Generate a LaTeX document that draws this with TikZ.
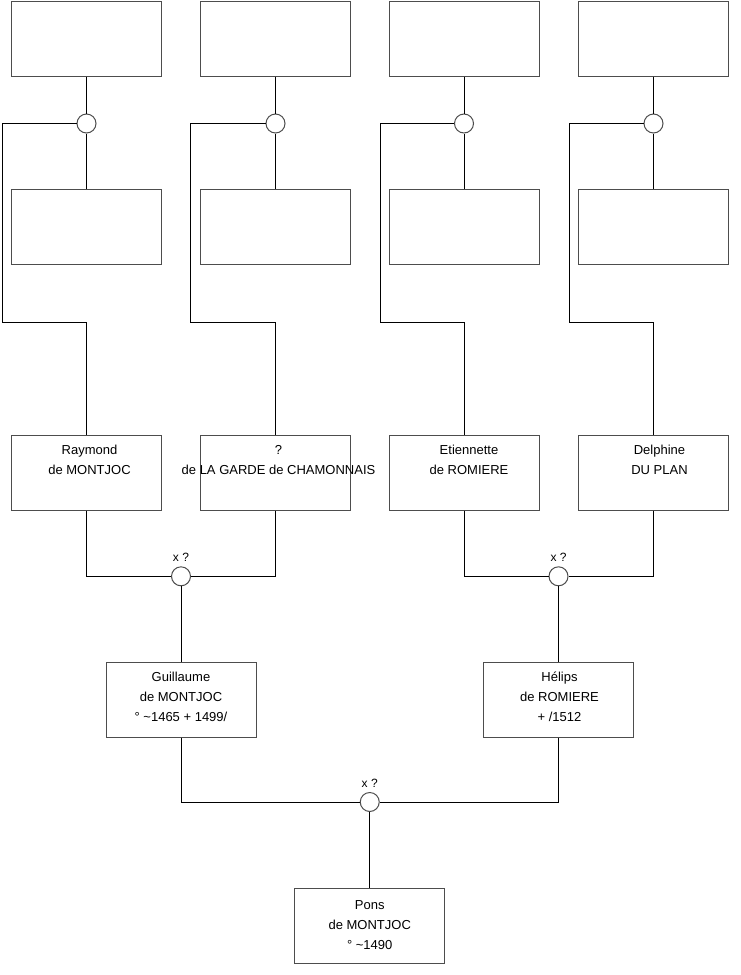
\documentclass[tikz,border=0pt]{standalone}
\usepackage{fontspec}
\setmainfont{Liberation Sans}
\definecolor{boxgray}{HTML}{4D4D4D}
\begin{document}
\begin{tikzpicture}[x=1pt,y=-1pt,
  box/.style={draw=boxgray, line width=1pt, minimum width=150pt, minimum height=75pt, inner sep=0pt, fill=white},
  txt/.style={font=\fontsize{13}{20}\selectfont, align=center, inner sep=0pt, anchor=north},
  knot/.style={circle, draw=boxgray, fill=white, minimum size=19pt, inner sep=0pt, line width=1pt},
  link/.style={draw=black, line width=1pt},
  marriage/.style={font=\fontsize{12}{14}\selectfont, inner sep=0pt, anchor=base}]
\useasboundingbox (0,0) rectangle (740,975);

% top rows (empty boxes)
\foreach \i/\x in {1/86.5, 2/275.5, 3/464, 4/653.5} {
  \node[box] (t\i) at (\x,38.5) {};
  \node[box] (m\i) at (\x,227) {};
  \node[box] (r\i) at (\x,472.5) {};
  \node[knot] (c\i) at (\x,123.5) {};
}

% row 3 texts
\node[txt, xshift=3pt] (r1t) at ([yshift=-10.5pt]r1.north) {Raymond\\de MONTJOC};
\node[txt, xshift=3pt] (r2t) at ([yshift=-10.5pt]r2.north) {?\\\makebox[0pt]{de LA GARDE de CHAMONNAIS}};
\node[txt, xshift=5pt] (r3t) at ([yshift=-10.5pt]r3.north) {Etiennette\\de ROMIERE};
\node[txt, xshift=6pt] (r4t) at ([yshift=-10.5pt]r4.north) {Delphine\\DU PLAN};

% couples
\node[knot] (k1) at (181,576.3) {};
\node[knot] (k2) at (558.5,576.3) {};
\node[knot] (k3) at (369.75,802) {};
\node[marriage] (x1) at ([yshift=5pt]k1.north) {x ?};
\node[marriage] (x2) at ([yshift=5pt]k2.north) {x ?};
\node[marriage] (x3) at ([yshift=5pt]k3.north) {x ?};

\node[box] (g) at (181,699.5) {};
\node[box] (h) at (558.5,699.5) {};
\node[box] (p) at (369.75,926) {};
\node[txt] (gt) at ([yshift=-10.5pt]g.north) {Guillaume\\de MONTJOC\\° \textasciitilde1465 + 1499/};
\node[txt, xshift=1pt] (ht) at ([yshift=-10.5pt]h.north) {Hélips\\de ROMIERE\\+ /1512};
\node[txt] (pt) at ([yshift=-12pt]p.north) {Pons\\de MONTJOC\\° \textasciitilde1490};

% top connectors
\foreach \i/\lx in {1/2, 2/190.5, 3/380, 4/569} {
  \draw[link] (t\i.south) -- (c\i.north);
  \draw[link] (c\i.south) -- (m\i.north);
  \draw[link] (c\i.west) -| (\lx,322) -| (r\i.north);
}

% couple connectors
\draw[link] (r1.south) |- (k1.west);
\draw[link] (r2.south) |- (k1.east);
\draw[link] (r3.south) |- (k2.west);
\draw[link] (r4.south) |- (k2.east);
\draw[link] (k1.south) -- (g.north);
\draw[link] (k2.south) -- (h.north);
\draw[link] (g.south) |- (k3.west);
\draw[link] (h.south) |- (k3.east);
\draw[link] (k3.south) -- (p.north);
\end{tikzpicture}
\end{document}
